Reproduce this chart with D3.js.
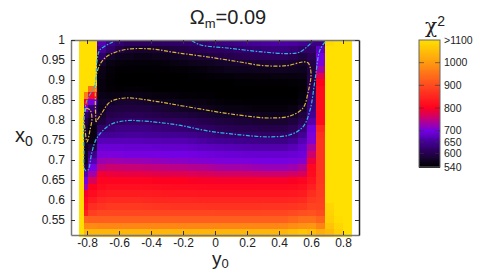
<!DOCTYPE html>
<html>
<head>
<meta charset="utf-8">
<script src="https://cdn.jsdelivr.net/npm/d3@7"></script>
<style>
body { margin: 0; background: #fff; }
text { font-family: "Liberation Sans", sans-serif; fill: #222; }
</style>
</head>
<body>
<svg id="chart" width="480" height="273"></svg>
<script>
const titleText = "=0.09";
const xTicks = [-0.8, -0.6, -0.4, -0.2, 0, 0.2, 0.4, 0.6, 0.8];
const yTicks = [0.55, 0.6, 0.65, 0.7, 0.75, 0.8, 0.85, 0.9, 0.95, 1];
const barTicks = [540, 600, 650, 700, 800, 900, 1000, 1100];
const barLabels = ["540", "600", "650", "700", "800", "900", "1000", ">1100"];

const colorStops = [540, 575, 600, 650, 700, 750, 800, 900, 1000, 1100];
const colorValues = ["#000000", "#14042a", "#26004e", "#420094", "#7400e4", "#c00080", "#ff0020", "#ff4a20", "#ff9a10", "#ffe000"];

// cell edges of the grid, the first two columns are cut short
const colEdges = [-0.85, -0.819, -0.794, -0.737, -0.68, -0.624, -0.566, -0.509, -0.453, -0.391, -0.338,
    -0.281, -0.225, -0.169, -0.113, -0.053, 0.003, 0.059, 0.119, 0.175, 0.231, 0.288, 0.347, 0.403, 0.459,
    0.516, 0.572, 0.631, 0.688, 0.744, 0.8, 0.856];
const rowEdges = [1, 0.984, 0.967, 0.951, 0.935, 0.918, 0.902, 0.886, 0.869, 0.853, 0.837, 0.82, 0.804, 0.788,
    0.771, 0.755, 0.739, 0.722, 0.706, 0.69, 0.673, 0.657, 0.641, 0.624, 0.608, 0.592, 0.575, 0.559, 0.543, 0.527, 0.51];

const chi2 = [
[1100,1100,1100,670,640,625,612,610,610,612,615,618,620,622,625,630,635,640,645,650,653,656,660,660,658,650,640,640,1090,1100,1100],
[1100,1100,1100,650,620,595,582,578,578,580,585,590,595,600,605,610,612,616,620,625,628,632,635,635,630,620,620,680,1100,1100,1100],
[1100,1100,1100,615,575,565,562,560,560,562,565,570,575,580,585,590,595,598,602,605,608,610,612,610,602,590,605,700,1100,1100,1100],
[1100,1100,1100,575,555,550,549,548,548,549,552,555,558,562,566,570,574,577,580,580,582,584,585,584,580,575,595,705,1100,1100,1100],
[1100,1100,1100,560,548,544,543,542,542,543,544,545,546,548,552,556,560,562,565,565,566,568,570,570,568,565,590,730,1100,1100,1100],
[1100,1100,1100,555,545,541,540,540,540,540,540,541,541,542,544,546,548,549,550,550,551,552,553,553,553,555,595,775,1100,1100,1100],
[1100,1100,1100,552,543,541,540,540,540,540,540,540,540,540,540,540,541,541,542,542,543,544,544,544,545,548,600,800,1100,1100,1100],
[1100,1100,950,552,545,543,545,545,543,541,540,540,540,540,540,540,540,540,540,540,540,540,540,540,540,545,610,812,1100,1100,1100],
[1100,960,810,558,555,556,558,558,556,552,550,548,546,545,544,543,541,540,540,540,540,540,540,540,540,548,620,815,1100,1100,1100],
[1100,800,700,570,570,578,580,578,575,570,565,562,558,556,554,552,548,546,545,544,544,544,544,544,545,555,630,815,1100,1100,1100],
[1100,690,630,565,588,590,592,592,590,585,580,576,572,570,566,562,558,556,555,553,552,552,552,552,555,575,640,815,1100,1100,1100],
[1100,620,600,580,598,602,605,605,602,598,595,592,590,586,582,578,574,572,570,568,566,565,565,565,570,590,650,815,1100,1100,1100],
[1100,600,570,590,610,615,620,620,618,615,612,610,608,604,600,596,590,588,585,584,582,580,580,580,588,605,665,815,1100,1100,1100],
[1100,580,555,620,630,638,640,640,638,634,630,628,625,622,618,614,608,605,603,602,600,598,598,598,608,630,695,850,1100,1100,1100],
[1100,570,555,650,650,654,655,655,654,652,650,650,648,644,638,632,626,624,622,620,619,618,618,618,628,650,705,865,1100,1100,1100],
[1100,570,560,672,672,672,672,672,670,670,668,668,668,664,658,654,650,648,645,643,641,640,640,640,650,670,710,870,1100,1100,1100],
[1100,570,590,690,690,690,688,688,688,686,685,685,685,682,678,676,674,672,670,668,666,665,665,665,672,685,735,870,1100,1100,1100],
[1100,575,640,705,705,704,702,702,702,701,700,700,700,698,696,694,692,691,690,689,688,688,688,688,690,695,760,870,1100,1100,1100],
[1100,575,670,725,728,726,725,724,722,720,718,716,715,712,710,708,706,705,705,704,703,702,702,702,704,710,785,870,1100,1100,1100],
[1100,600,700,750,758,756,755,754,752,750,748,746,745,742,740,736,732,730,730,728,725,722,722,722,726,740,810,870,1100,1100,1100],
[1100,670,730,790,785,784,782,782,780,778,776,775,775,772,770,768,766,765,765,763,762,760,760,760,765,770,815,870,1100,1100,1100],
[1100,700,770,805,806,806,805,805,804,802,801,800,800,798,797,796,795,795,795,795,795,795,795,795,798,805,825,872,1100,1100,1100],
[1100,730,800,815,820,820,820,820,819,818,816,815,815,814,813,812,812,812,812,812,812,812,812,812,815,820,840,875,1100,1100,1100],
[1100,790,815,830,835,835,835,835,834,833,831,830,830,830,829,828,828,828,828,828,828,828,828,828,830,835,860,878,1100,1100,1100],
[1100,810,835,850,855,855,855,855,854,852,851,850,850,850,849,848,848,848,848,848,848,848,848,848,850,855,875,882,1100,1100,1100],
[1100,820,860,870,875,875,875,875,874,872,871,870,870,870,869,868,868,868,868,868,868,870,870,870,872,875,890,888,1085,1100,1100],
[1100,840,885,895,895,895,895,895,895,895,895,895,895,895,895,894,893,893,893,893,893,895,895,895,898,905,910,900,1080,1100,1100],
[1100,930,925,925,925,925,925,925,925,925,925,925,925,925,925,925,925,925,925,925,925,925,925,925,935,945,945,930,1075,1095,1100],
[1100,980,980,975,975,975,975,975,975,975,975,975,975,975,975,975,975,975,975,975,975,975,975,975,982,990,995,970,1060,1085,1100],
[1100,1040,1040,1040,1040,1040,1040,1040,1040,1040,1040,1040,1040,1040,1040,1040,1040,1040,1040,1040,1040,1040,1040,1040,1050,1060,1050,1030,1045,1075,1100]
];

// contours, [y0, x0]
const yellowLoop = [[-0.744,0.795],[-0.738,0.918],[-0.688,0.955],[-0.575,0.975],[-0.406,0.978],[-0.238,0.968],
    [-0.05,0.958],[0.156,0.945],[0.3,0.936],[0.45,0.936],[0.55,0.945],[0.581,0.943],[0.6,0.918],[0.581,0.868],
    [0.55,0.83],[0.469,0.81],[0.344,0.805],[0.238,0.808],[0.05,0.818],[-0.2,0.835],[-0.344,0.845],[-0.563,0.855],
    [-0.656,0.845],[-0.706,0.818],[-0.744,0.795]];
const yellowLobe = [[-0.806,0.83],[-0.781,0.825],[-0.769,0.805],[-0.781,0.775],[-0.8,0.745],[-0.812,0.775],[-0.819,0.81],[-0.806,0.83]];
const cyanTop = [[-0.144,0.998],[-0.094,0.988],[0.075,0.98],[0.3,0.97],[0.45,0.966],[0.531,0.97],[0.606,0.995]];
const cyanMain = [[0.688,0.995],[0.656,0.975],[0.625,0.9],[0.594,0.825],[0.55,0.783],[0.469,0.763],[0.325,0.758],
    [0.156,0.763],[-0.05,0.773],[-0.238,0.788],[-0.469,0.798],[-0.563,0.798],[-0.656,0.788],[-0.738,0.755],
    [-0.769,0.72],[-0.794,0.675],[-0.813,0.675],[-0.819,0.725],[-0.819,0.805],[-0.8,0.85],[-0.75,0.888],
    [-0.738,0.945],[-0.72,0.975],[-0.638,0.995]];

const svg = d3.select("#chart");
const x = d3.scaleLinear().domain([-0.9, 0.9]).range([71, 359]);
const y = d3.scaleLinear().domain([0.5125, 1]).range([235, 40]);
const color = d3.scaleLinear().domain(colorStops).range(colorValues);

// heat map
chi2.forEach((row, r) => {
    svg.append("g").attr("shape-rendering", "crispEdges")
        .selectAll("rect").data(row).join("rect")
        .attr("x", (d, c) => x(colEdges[c]))
        .attr("y", y(rowEdges[r]))
        .attr("width", (d, c) => x(colEdges[c + 1]) - x(colEdges[c]) + 0.5)
        .attr("height", y(rowEdges[r + 1]) - y(rowEdges[r]) + 0.5)
        .attr("fill", d => color(d));
});

var line = d3.line().curve(d3.curveCatmullRom.alpha(0.5))
    .x(d => x(d[0]))
    .y(d => y(d[1]));

[[yellowLoop, "#d9b83c"], [yellowLobe, "#d9b83c"], [cyanTop, "#2fb4dc"], [cyanMain, "#2fb4dc"]].forEach(([pts, c]) => {
    svg.append("path").attr("d", line(pts))
        .attr("fill", "none").attr("stroke", c)
        .attr("stroke-width", 1.2).attr("stroke-dasharray", "4 1.5 1.5 1.5");
});

// axes with inward ticks on all four sides
function styleAxis(g) {
    g.select(".domain").attr("stroke", "#777").attr("stroke-width", 1.5);
    g.selectAll(".tick line").attr("stroke", "#333").attr("stroke-width", 1);
    g.selectAll("text").style("font-size", "12px").style("fill", "#222");
}
const fmt = d => String(d);
svg.append("g").attr("transform", "translate(0,235)")
    .call(d3.axisBottom(x).tickValues(xTicks).tickFormat(fmt).tickSizeInner(-4).tickSizeOuter(0).tickPadding(3))
    .call(styleAxis);
svg.append("g").attr("transform", "translate(0,40)")
    .call(d3.axisTop(x).tickValues(xTicks).tickFormat("").tickSizeInner(-4).tickSizeOuter(0))
    .call(styleAxis);
svg.append("g").attr("transform", "translate(71,0)")
    .call(d3.axisLeft(y).tickValues(yTicks).tickFormat(fmt).tickSizeInner(-4).tickSizeOuter(0).tickPadding(6))
    .call(styleAxis);
svg.append("g").attr("transform", "translate(359,0)")
    .call(d3.axisRight(y).tickValues(yTicks).tickFormat("").tickSizeInner(-4).tickSizeOuter(0))
    .call(styleAxis)
    .select(".domain").attr("stroke", "#222");

// title and axis names
const title = svg.append("text").attr("x", 228).attr("y", 24).attr("text-anchor", "middle").style("font-size", "20px");
title.append("tspan").text("Ω");
title.append("tspan").text("m").attr("dy", 4).style("font-size", "13px");
title.append("tspan").text(titleText).attr("dy", -4);

const xName = svg.append("text").attr("x", 15).attr("y", 142).style("font-size", "20px");
xName.append("tspan").text("x");
xName.append("tspan").text("0").attr("dy", 4).style("font-size", "14px");

const yName = svg.append("text").attr("x", 212).attr("y", 265).style("font-size", "19px");
yName.append("tspan").text("y");
yName.append("tspan").text("0").attr("dy", 3).style("font-size", "13px");

// colour bar
const bar = d3.scaleLinear().domain([540, 1100]).range([167, 40]);
const barSteps = d3.range(540, 1100, 4);
svg.append("g").attr("shape-rendering", "crispEdges").selectAll("rect").data(barSteps).join("rect")
    .attr("x", 419).attr("width", 21)
    .attr("y", d => bar(d + 4)).attr("height", d => bar(d) - bar(d + 4) + 0.5)
    .attr("fill", d => color(d));
svg.append("rect").attr("x", 419).attr("y", 40).attr("width", 21).attr("height", 127)
    .attr("fill", "none").attr("stroke", "#666").attr("stroke-width", 1);
svg.append("g").selectAll("line").data(barTicks.slice(1, -1).concat(barTicks.slice(1, -1))).join("line")
    .attr("x1", (d, i) => i < barTicks.length - 2 ? 419 : 435)
    .attr("x2", (d, i) => i < barTicks.length - 2 ? 424 : 440)
    .attr("y1", d => bar(d)).attr("y2", d => bar(d))
    .attr("stroke", "#333").attr("stroke-opacity", 0.6);
svg.append("g").selectAll("text").data(barTicks).join("text")
    .attr("x", 444).attr("y", d => bar(d)).attr("dy", "0.35em")
    .style("font-size", "10.5px")
    .text((d, i) => barLabels[i]);

const chiName = svg.append("text").attr("x", 425).attr("y", 33).style("font-size", "20px");
chiName.append("tspan").text("χ").style("font-family", "'DejaVu Serif', serif");
chiName.append("tspan").text("2").attr("dy", -7).style("font-size", "14px");
</script>
</body>
</html>
